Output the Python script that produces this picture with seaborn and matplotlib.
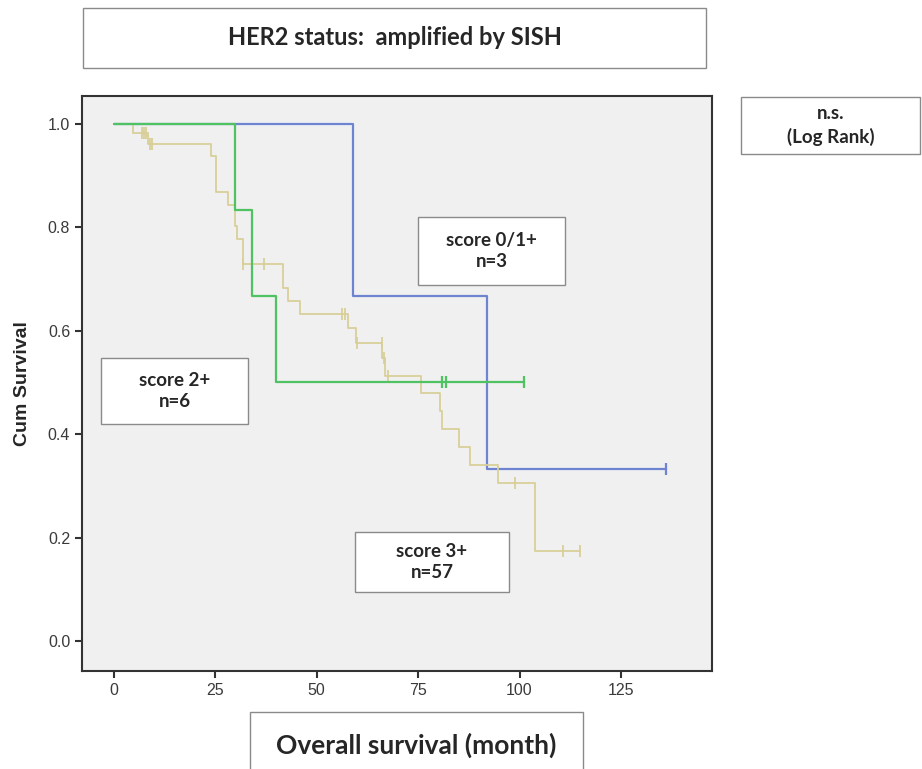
import numpy as np
import pandas as pd
import matplotlib.pyplot as plt
import seaborn as sns
from matplotlib.patches import Rectangle

# ---------------------------------------------------------------
# Kaplan-Meier curves (month, cum survival)
# ---------------------------------------------------------------
blue_t = [0, 59.0, 92.0, 136.0]
blue_s = [1.0, 0.667, 0.333, 0.333]
blue_cens_t = [136.0]
blue_cens_s = [0.333]

green_t = [0, 30.0, 34.0, 40.0, 101.0]
green_s = [1.0, 0.833, 0.667, 0.5, 0.5]
green_cens_t = [81.0, 81.8, 101.0]
green_cens_s = [0.5, 0.5, 0.5]

tan_t = [0, 4.8, 8.4, 23.9, 25.1, 28.1, 29.9, 30.5, 31.8, 41.8, 43.0, 45.9,
         57.8, 59.8, 66.0, 66.8, 75.8, 80.4, 80.8, 85.0, 87.9, 94.8, 103.7, 114.9]
tan_s = [1.0, 0.982, 0.962, 0.937, 0.869, 0.844, 0.802, 0.778, 0.729, 0.683, 0.657, 0.633,
         0.605, 0.576, 0.547, 0.513, 0.480, 0.444, 0.410, 0.376, 0.340, 0.306, 0.174, 0.174]
tan_cens_t = [7.0, 7.5, 8.0, 8.9, 9.5, 31.9, 37.0, 56.2, 57.0, 60.0, 66.0, 66.6, 67.6,
              98.8, 110.7, 114.9]
tan_cens_s = [0.982, 0.982, 0.982, 0.962, 0.962, 0.729, 0.729, 0.633, 0.633, 0.576, 0.576,
              0.547, 0.513, 0.306, 0.174, 0.174]

x_ticks = [0, 25, 50, 75, 100, 125]
y_ticks = [0.0, 0.2, 0.4, 0.6, 0.8, 1.0]

BLUE = "#6f84d1"
GREEN = "#4fc262"
TAN = "#d8cf98"

sns.set_style("white")
plt.rcParams["font.family"] = ["Liberation Sans", "DejaVu Sans"]

fig = plt.figure(figsize=(9.22, 7.69), dpi=100)
ax = fig.add_axes([0.0889, 0.1274, 0.7722 - 0.0889, 0.8752 - 0.1274])
ax.set_facecolor("#f0f0f0")

curves = [
    (blue_t, blue_s, blue_cens_t, blue_cens_s, BLUE, 1.6),
    (tan_t, tan_s, tan_cens_t, tan_cens_s, TAN, 1.3),
    (green_t, green_s, green_cens_t, green_cens_s, GREEN, 1.6),
]
for t, s, ct, cs, col, lw in curves:
    df = pd.DataFrame({"t": t, "s": s})
    sns.lineplot(data=df, x="t", y="s", drawstyle="steps-post", color=col,
                 linewidth=lw, estimator=None, ax=ax)
    ax.plot(ct, cs, linestyle="none", marker="|", markersize=9,
            markeredgewidth=lw, color=col)

ax.set_xlim(-7.8, 147.4)
ax.set_ylim(-0.058, 1.054)
ax.set_xticks(x_ticks)
ax.set_yticks(y_ticks)
ax.set_yticklabels([f"{v:.1f}" for v in y_ticks])
ax.tick_params(axis="both", direction="out", length=5, width=1.5, color="#333333",
               labelsize=11.5, labelcolor="#3a3a3a", bottom=True, left=True)
for sp in ax.spines.values():
    sp.set_color("#333333")
    sp.set_linewidth(1.5)
ax.set_xlabel("")
ax.set_ylabel("Cum Survival", fontsize=14, fontweight="bold", labelpad=12)


def box(x0, y0, x1, y1, text, size, font="Lato"):
    fig.patches.append(Rectangle((x0, y0), x1 - x0, y1 - y0, transform=fig.transFigure,
                                 facecolor="white", edgecolor="#8a8a8a", linewidth=1.0,
                                 zorder=5))
    fig.text((x0 + x1) / 2, (y0 + y1) / 2, text, ha="center", va="center",
             fontsize=size, fontweight="bold", family=font, linespacing=1.35, zorder=6)


box(0.090, 0.9116, 0.766, 0.9896, "HER2 status:  amplified by SISH", 17)
box(0.8037, 0.7997, 0.9978, 0.8739, "n.s.\n(Log Rank)", 13.5)
box(0.4534, 0.6294, 0.6128, 0.7178, "score 0/1+\nn=3", 13.5)
box(0.1095, 0.4486, 0.2690, 0.5345, "score 2+\nn=6", 13.5)
box(0.3850, 0.2302, 0.5520, 0.3082, "score 3+\nn=57", 13.5)
box(0.2711, -0.01, 0.6323, 0.0741, "", 18)
fig.text(0.451, 0.031, "Overall survival (month)", ha="center", va="center",
         fontsize=19, fontweight="bold", family="Lato", zorder=6)

fig.savefig("out.png", dpi=100)
